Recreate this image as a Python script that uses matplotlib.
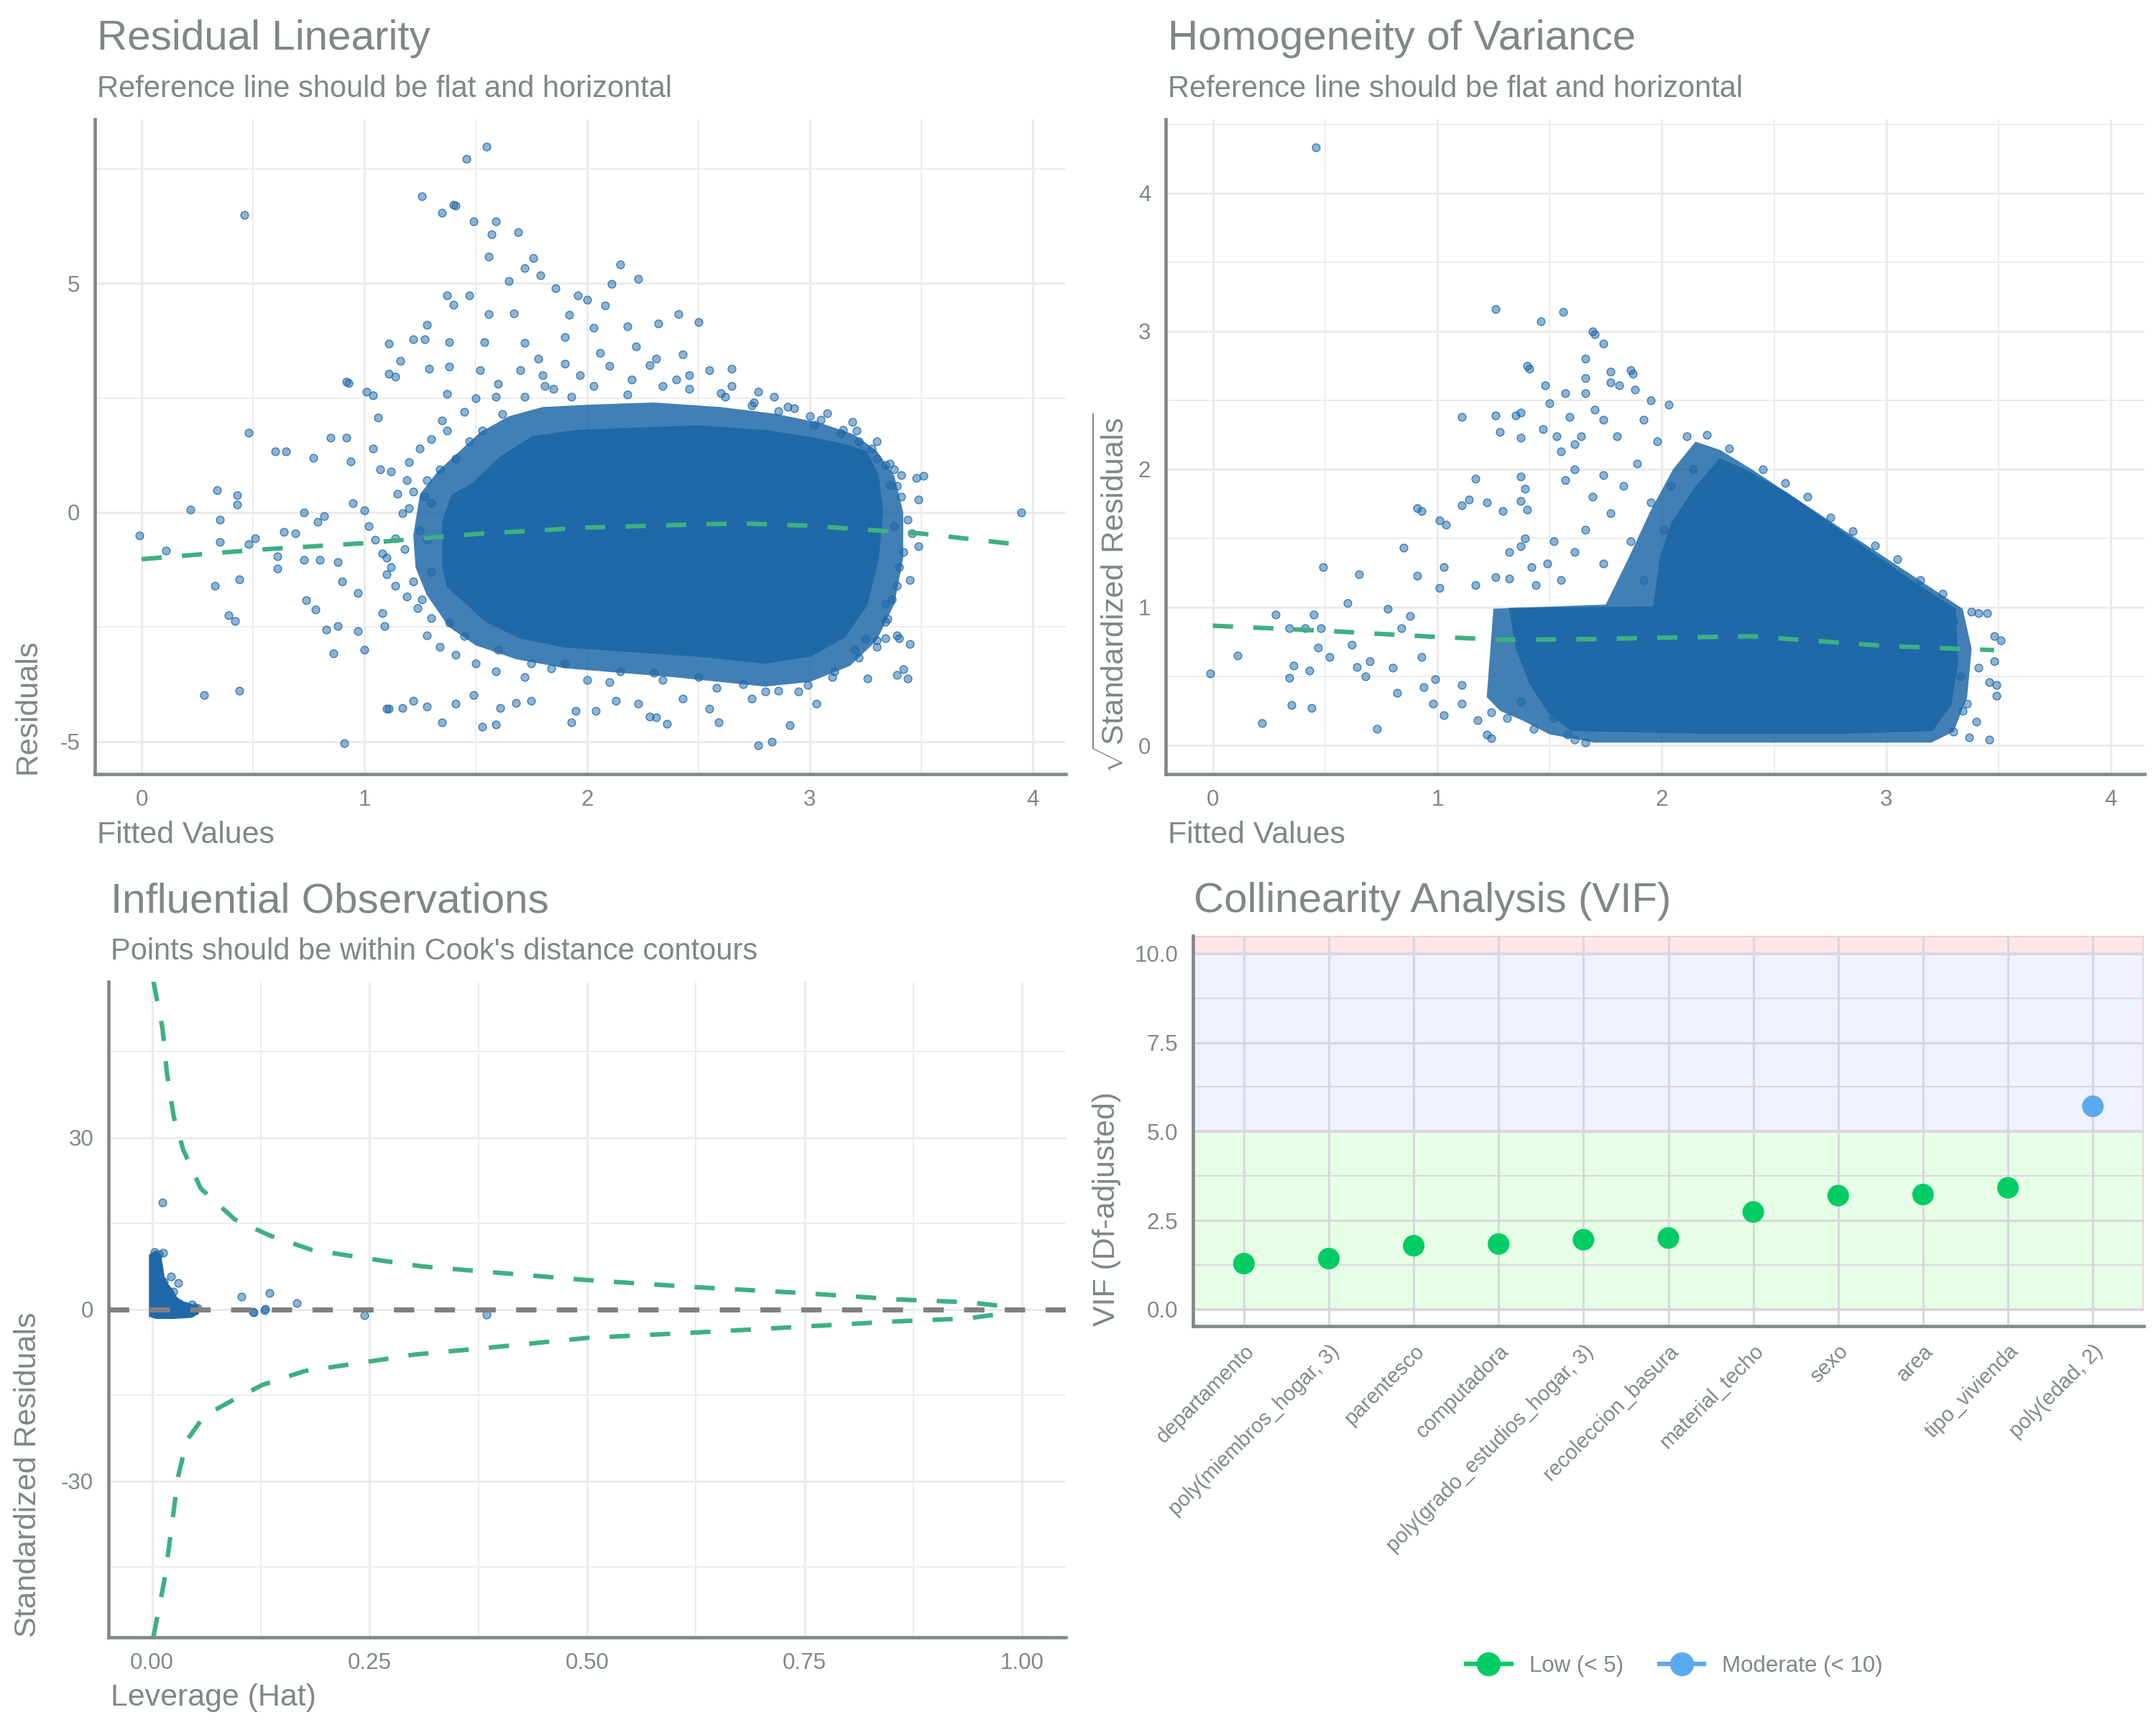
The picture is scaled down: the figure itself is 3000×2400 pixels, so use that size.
import matplotlib
matplotlib.use('Agg')
import matplotlib.pyplot as plt
from matplotlib.lines import Line2D
from matplotlib.ticker import MultipleLocator, FormatStrFormatter

plt.rcParams['font.family'] = ['Liberation Sans', 'DejaVu Sans']
plt.rcParams['axes.unicode_minus'] = False
plt.rcParams['mathtext.fontset'] = 'custom'
plt.rcParams['mathtext.rm'] = 'Liberation Sans'

# ---- data ----

# Residual linearity: outline of the solid core, the semi-dense halo round it,
# and the individual points that can be told apart
lin_core_x = [1.36, 1.36, 1.40, 1.49, 1.62, 1.76, 1.95, 2.20, 2.50, 2.80, 3.00, 3.15, 3.25, 3.30,
              3.32, 3.30, 3.25, 3.15, 3.00, 2.80, 2.50, 2.20, 1.90, 1.70, 1.55, 1.45, 1.38]
lin_core_y = [-1.2, -0.2, 0.35, 0.6, 1.2, 1.62, 1.75, 1.8, 1.85, 1.75, 1.6, 1.45, 1.3, 0.8,
              0.0, -1.0, -2.0, -2.7, -3.1, -3.25, -3.1, -3.0, -2.9, -2.7, -2.35, -1.9, -1.6]
lin_halo_x = [1.22, 1.25, 1.33, 1.42, 1.52, 1.65, 1.80, 2.00, 2.30, 2.60, 2.85, 3.05, 3.20, 3.30,
              3.38, 3.42, 3.42, 3.38, 3.30, 3.18, 3.00, 2.80, 2.60, 2.40, 2.15, 1.90, 1.68, 1.50,
              1.38, 1.28, 1.23]
lin_halo_y = [-0.5, 0.4, 0.9, 1.3, 1.75, 2.1, 2.3, 2.35, 2.4, 2.3, 2.15, 1.95, 1.7, 1.35,
              0.8, 0.0, -1.0, -2.0, -2.8, -3.35, -3.7, -3.8, -3.7, -3.6, -3.5, -3.4, -3.2, -2.9,
              -2.5, -1.8, -1.2]
lin_x = [1.55, 1.46, 1.26, 1.40, 1.41, 1.35, 0.46, 1.49, 1.59, 1.57, 1.69, 1.56, 1.76, 1.72, 1.65,
         1.79, 1.86, 2.15, 2.23, 2.11, 1.96, 2.00, 2.08, 1.37, 1.47, 1.40, 1.56, 1.67, 1.92, 2.41,
         2.50, 2.32, 2.18, 2.03, 1.28, 1.22, 1.27, 1.11, 1.38, 1.54, 1.72, 1.90, 2.22, 2.43, 1.16,
         1.29, 1.11, 1.14, 1.38, 1.52, 2.65, 2.55, 2.28, 0.92, 0.93, 1.01, 1.04, 1.37, 1.06, 2.84,
         3.08, 3.19,
         0.48, 0.60, 0.65, 0.77, 0.85, 0.92, 1.04, 1.07, 0.94, 0.34, 0.43, 0.43, 0.22, -0.01, 0.11,
         0.35, 0.35, 0.51, 0.48, 0.61, 0.61, 0.73, 0.80, 0.33, 0.44, 0.39, 0.42, 0.74, 0.78, 0.83,
         0.88, 0.97, 0.86, 1.00, 0.28, 0.44, 0.91, 0.64, 0.69, 0.73, 0.79, 0.82, 0.88, 0.90, 0.97,
         1.08, 1.09,
         1.10, 1.11, 1.17, 1.22, 1.28, 1.35, 1.41, 1.49, 1.53, 1.59, 1.61, 1.68, 1.75, 1.93, 1.95,
         2.04, 2.13, 2.23, 2.28, 2.31, 2.36, 2.43, 2.55, 2.59, 2.77, 2.83, 2.91, 3.03, 3.26, 3.39,
         3.44, 3.42, 3.34, 3.40, 3.45, 3.30, 3.25,
         3.95, 3.51, 3.48, 3.49, 3.49, 3.46, 3.41, 3.38, 3.34, 3.34, 3.34,
         1.19, 1.22, 1.17, 1.14, 1.10, 1.10, 1.14, 1.19, 1.24, 1.28, 1.34, 1.41, 1.50, 1.59, 1.72,
         1.84, 2.00, 2.15, 2.34, 2.58, 2.74, 2.86, 2.99, 3.11, 3.22, 3.30, 3.35, 3.39, 3.42, 3.44,
         3.39, 3.30, 3.22, 3.14, 3.02, 2.86, 2.74, 2.62, 2.46, 2.34, 2.18, 2.03, 1.93, 1.81, 1.72,
         1.62, 1.53, 1.47, 1.41, 1.34, 1.28, 1.27,
         1.37, 1.59, 1.78, 1.90, 2.06, 2.31, 2.46, 2.65, 2.77, 2.93, 3.05, 3.21, 3.30, 3.36, 3.41,
         3.45, 3.39,
         0.95, 1.00, 1.02, 1.05, 1.08, 1.12, 1.15, 1.20, 1.25, 1.18, 1.22, 1.26, 1.30, 1.12, 1.20,
         1.25, 1.30, 1.35, 1.45, 1.50, 1.60, 1.70, 1.80, 1.85, 1.97, 2.10, 2.20, 2.40, 2.60, 2.75,
         2.90, 3.00, 3.15, 3.28, 3.36, 3.38, 3.40, 3.37, 3.20, 3.10, 2.95, 2.80, 2.70, 2.50, 2.30,
         2.10, 1.90, 1.75, 1.60, 1.45, 1.38, 1.30, 1.28, 1.30]
lin_y = [7.99, 7.71, 6.90, 6.71, 6.70, 6.54, 6.49, 6.36, 6.35, 6.07, 6.11, 5.59, 5.55, 5.33, 5.05,
         5.18, 4.90, 5.41, 5.09, 4.99, 4.74, 4.64, 4.52, 4.73, 4.73, 4.53, 4.33, 4.35, 4.32, 4.33,
         4.16, 4.12, 4.07, 4.03, 4.10, 3.78, 3.78, 3.69, 3.72, 3.72, 3.70, 3.83, 3.63, 3.45, 3.31,
         3.14, 3.02, 2.96, 3.18, 3.10, 3.14, 3.10, 3.22, 2.85, 2.82, 2.64, 2.56, 2.59, 2.07, 2.52,
         2.16, 1.97,
         1.74, 1.34, 1.34, 1.19, 1.63, 1.63, 1.39, 0.94, 1.11, 0.48, 0.37, 0.17, 0.06, -0.51, -0.83,
         -0.16, -0.65, -0.57, -0.69, -0.96, -1.23, -1.04, -1.03, -1.60, -1.46, -2.25, -2.37, -1.92,
         -2.12, -2.56, -2.48, -2.59, -3.08, -3.00, -3.98, -3.89, -5.03, -0.42, -0.45, 0.0, -0.2,
         -0.08, -1.09, -1.50, -1.75, -2.20, -2.48,
         -4.29, -4.29, -4.27, -4.11, -4.23, -4.58, -4.17, -3.98, -4.68, -4.62, -4.26, -4.16, -4.11,
         -4.58, -4.33, -4.33, -4.11, -4.17, -4.46, -4.47, -4.61, -4.07, -4.28, -4.58, -5.08, -5.01,
         -4.64, -4.18, -3.62, -3.55, -3.62, -3.42, -2.74, -2.74, -2.87, -2.80, -2.76,
         0.0, 0.80, 0.75, 0.28, -0.73, -0.45, 0.82, 0.94, 1.03, -2.00, -2.38,
         0.70, 0.46, -0.02, -0.57, -0.99, -1.35, -1.60, -1.84, -2.08, -2.68, -2.93, -3.11, -3.29,
         -3.47, -3.59, -3.41, -3.65, -3.47, -3.65, -3.83, -4.07, -3.89, -3.77, -3.47, -3.17, -2.93,
         -2.32, -1.60, -0.87, -0.15, 0.58, 1.18, 1.55, 1.73, 1.91, 2.21, 2.33, 2.52, 2.70, 2.76,
         2.58, 2.76, 2.52, 2.76, 2.52, 2.15, 1.79, 1.55, 1.18, 0.94, 0.70, 0.34,
         1.79, 2.52, 3.36, 3.24, 3.48, 3.36, 3.00, 2.76, 2.64, 2.27, 2.03, 1.79, 1.55, 1.06, 0.34,
         -1.48, -2.68,
         0.20, 0.05, -0.30, -0.60, -0.90, -1.20, 0.40, 0.10, -0.40, -0.80, -1.50, -1.90, -2.30,
         0.90, 1.10, 1.40, 1.60, 2.00, 2.20, 2.50, 2.80, 3.10, 3.00, 2.70, 3.00, 3.20, 2.90, 2.90,
         2.60, 2.40, 2.30, 2.10, 1.80, 1.40, 0.60, -0.30, -1.20, -1.90, -3.00, -3.60, -3.90, -3.90,
         -3.75, -3.60, -3.50, -3.70, -3.30, -3.30, -3.00, -2.70, -2.40, -1.30, -0.60, 0.20]
lin_loess_x = [0.0, 0.5, 1.0, 1.5, 2.0, 2.5, 2.7, 3.0, 3.5, 3.9]
lin_loess_y = [-1.02, -0.82, -0.67, -0.47, -0.33, -0.26, -0.24, -0.29, -0.46, -0.68]

# Homogeneity of variance
var_core_x = [1.33, 1.97, 2.00, 2.05, 2.15, 2.26, 2.36, 2.55, 2.83, 3.11, 3.30, 3.31, 3.28, 3.20,
              2.80, 2.20, 1.60, 1.50, 1.42, 1.36]
var_core_y = [0.98, 0.99, 1.35, 1.60, 1.85, 2.06, 1.99, 1.82, 1.50, 1.18, 0.98, 0.60, 0.30, 0.12,
              0.10, 0.10, 0.12, 0.25, 0.45, 0.70]
var_halo_x = [1.22, 1.25, 1.75, 1.85, 1.95, 2.05, 2.15, 2.26, 2.40, 3.34, 3.38, 3.36, 3.30, 3.20,
              2.50, 1.70, 1.50, 1.38, 1.28]
var_halo_y = [0.35, 0.99, 1.02, 1.35, 1.70, 2.00, 2.20, 2.14, 2.00, 0.99, 0.70, 0.35, 0.10, 0.02,
              0.02, 0.02, 0.08, 0.18, 0.25]
var_x = [0.46, 1.26, 1.46, 1.56, 1.69, 1.70, 1.74, 1.66, 1.40, 1.41, 1.77, 1.86, 1.87, 1.48, 1.57,
         1.66, 1.66, 1.77, 1.81, 1.88, 1.50, 1.11, 1.26, 1.35, 1.37, 1.28, 1.37, 1.47, 1.59, 1.70,
         1.95, 2.03, 1.53, 1.55, 1.61, 1.17, 1.11, 1.14, 1.22, 1.37, 1.39, 1.37, 1.29, 1.40, 0.91,
         0.93, 1.01, 1.04, 0.85, 1.03, 0.91, 0.49, 0.65, 0.60, 0.28, 0.45, 0.34, 0.41, 0.48, 0.11,
         -0.01, 0.47, 0.52, 0.36, 0.34, 0.43, 0.22, 0.35, 0.44, 0.62, 0.64, 0.68, 0.70, 0.73, 0.78,
         0.80, 0.82, 0.84, 0.88, 0.93, 0.94, 0.98, 0.99, 1.03, 1.01, 1.11, 1.11, 1.18, 1.22, 1.24,
         1.17, 1.26, 1.32, 1.32, 1.37, 1.39, 1.42,
         3.51, 3.48, 3.48, 3.49, 3.49, 3.46, 3.40, 3.46, 3.37, 3.41, 3.45, 3.41, 3.38, 3.34,
         1.55, 1.61, 1.66, 1.74, 1.77, 1.83, 1.86, 1.89, 1.92, 1.95, 1.98, 2.01, 2.04, 2.08, 2.11,
         2.14, 1.74, 1.69, 1.61, 1.57, 1.52, 1.49, 1.44, 1.80, 1.92, 1.74, 1.64,
         1.24, 1.31, 1.37, 1.43, 1.52, 1.58, 1.61, 1.66,
         2.20, 2.30, 2.45, 2.55, 2.65, 2.75, 2.85, 2.95, 3.05, 3.15, 3.25, 3.30, 3.33, 3.36, 3.30]
var_y = [4.33, 3.16, 3.07, 3.14, 3.00, 2.98, 2.91, 2.80, 2.75, 2.73, 2.71, 2.72, 2.69, 2.61, 2.55,
         2.66, 2.55, 2.63, 2.61, 2.58, 2.48, 2.38, 2.39, 2.39, 2.41, 2.27, 2.23, 2.29, 2.38, 2.43,
         2.50, 2.47, 2.24, 2.13, 2.18, 1.93, 1.74, 1.78, 1.76, 1.95, 1.86, 1.77, 1.70, 1.71, 1.72,
         1.70, 1.63, 1.60, 1.43, 1.29, 1.23, 1.29, 1.24, 1.03, 0.95, 0.95, 0.85, 0.85, 0.85, 0.65,
         0.52, 0.71, 0.64, 0.58, 0.49, 0.54, 0.16, 0.29, 0.27, 0.73, 0.57, 0.50, 0.61, 0.12, 0.99,
         0.56, 0.38, 0.85, 0.94, 0.64, 0.42, 0.30, 0.48, 0.22, 1.14, 0.44, 0.30, 0.18, 0.08, 0.05,
         1.16, 1.22, 1.21, 1.40, 1.44, 1.50, 1.29,
         0.76, 0.79, 0.61, 0.44, 0.36, 0.46, 0.17, 0.04, 0.06, 0.56, 0.96, 0.96, 0.97, 0.25,
         1.20, 1.40, 1.56, 1.32, 1.68, 1.88, 1.48, 2.04, 1.20, 1.76, 2.20, 1.56, 1.88, 1.36, 2.24,
         2.00, 1.96, 1.80, 2.00, 1.92, 1.48, 1.32, 1.16, 2.24, 2.36, 2.36, 2.24,
         0.24, 0.20, 0.32, 0.12, 0.20, 0.08, 0.04, 0.02,
         2.25, 2.15, 2.00, 1.90, 1.80, 1.65, 1.55, 1.45, 1.35, 1.20, 1.10, 0.90, 0.50, 0.30, 0.10]
var_loess_x = [0.0, 0.5, 1.0, 1.3, 1.7, 2.0, 2.4, 2.7, 3.0, 3.48]
var_loess_y = [0.867, 0.83, 0.785, 0.765, 0.77, 0.78, 0.79, 0.755, 0.72, 0.69]

# Influential observations
lev_core_x = [-0.001, -0.001, 0.004, 0.008, 0.010, 0.012, 0.016, 0.022, 0.026, 0.032, 0.042,
              0.050, 0.051, 0.045, 0.025, 0.005]
lev_core_y = [-1.0, 9.3, 9.8, 9.3, 7.5, 5.5, 4.3, 3.2, 2.0, 1.2, 0.7, 0.2, -0.6, -1.1, -1.3, -1.3]
lev_x = [0.012, 0.003, 0.013, 0.008, 0.022, 0.030, 0.014, 0.024, 0.031, 0.046, 0.049, 0.103,
         0.116, 0.129, 0.130, 0.135, 0.166, 0.117, 0.244, 0.384, 0.038, 0.052]
lev_y = [18.6, 10.0, 9.9, 9.6, 5.7, 4.6, 4.8, 3.1, 1.05, 0.8, 0.3, 2.2,
         -0.46, -0.13, 0.1, 2.9, 1.1, -0.5, -1.0, -0.97, -0.5, 0.2]
cook_up_x = [0.0016, 0.012, 0.017, 0.025, 0.036, 0.056, 0.095, 0.135, 0.183, 0.246, 0.31, 0.38,
             0.50, 0.62, 0.74, 0.86, 0.94, 0.98]
cook_up_y = [57.3, 49.1, 41.4, 33.6, 27.8, 21.1, 15.7, 12.9, 10.4, 8.9, 7.5, 6.6, 5.1, 3.9, 2.9,
             1.7, 1.2, 0.5]
cook_lo_x = [0.0016, 0.014, 0.021, 0.030, 0.040, 0.060, 0.095, 0.127, 0.175, 0.238, 0.302, 0.381,
             0.50, 0.62, 0.74, 0.857, 0.937, 0.98]
cook_lo_y = [-57.2, -47.5, -39.8, -29.2, -22.9, -18.6, -15.7, -13.2, -10.8, -9.4, -7.9, -6.8,
             -5.0, -4.1, -3.1, -2.1, -1.6, -0.7]

# Collinearity (VIF)
vif_terms = ['departamento', 'poly(miembros_hogar, 3)', 'parentesco', 'computadora',
             'poly(grado_estudios_hogar, 3)', 'recoleccion_basura', 'material_techo', 'sexo',
             'area', 'tipo_vivienda', 'poly(edad, 2)']
vif_values = [1.29, 1.43, 1.79, 1.84, 1.96, 2.01, 2.74, 3.20, 3.23, 3.42, 5.71]

# ---- style ----
TXT = '#7f8787'
GRID = '#ebebeb'
PT = (0.122, 0.412, 0.659)
LOESS = '#3eb082'
LOW = '#00cc66'
MOD = '#5caaee'

W, H = 3000, 2400
fig = plt.figure(figsize=(10, 8), dpi=300)


def rect(l, r, t, b):
    return [l / W, 1 - b / H, (r - l) / W, (b - t) / H]


def ftext(px, py, s, **kw):
    kw.setdefault('color', TXT)
    fig.text(px / W, 1 - py / H, s, **kw)


def style(ax, xmaj, xmin, ymaj, ymin, gcol=GRID):
    ax.set_facecolor('white')
    for side in ('top', 'right'):
        ax.spines[side].set_visible(False)
    for side in ('left', 'bottom'):
        ax.spines[side].set_color(TXT)
        ax.spines[side].set_linewidth(1.1)
    if xmaj:
        ax.xaxis.set_major_locator(MultipleLocator(xmaj))
    if xmin:
        ax.xaxis.set_minor_locator(MultipleLocator(xmin))
    ax.yaxis.set_major_locator(MultipleLocator(ymaj))
    ax.yaxis.set_minor_locator(MultipleLocator(ymin))
    ax.grid(which='major', color=gcol, lw=0.75)
    ax.grid(which='minor', color=gcol, lw=0.45)
    ax.set_axisbelow(True)
    ax.tick_params(which='both', length=0, labelsize=7.5, labelcolor=TXT, pad=5)


def points(ax, x, y):
    ax.scatter(x, y, s=6.6, facecolor=PT + (0.5,), edgecolor=PT + (0.8,),
               linewidths=0.35, zorder=3)


def cloud(ax, hx, hy, cx, cy):
    # semi-dense halo first, then the solid core of overlapping points
    if hx:
        ax.fill(hx, hy, facecolor=PT + (0.85,), edgecolor='none', zorder=2.4)
    ax.fill(cx, cy, color=PT, lw=1.5, zorder=2.5)


# Residual Linearity
ax1 = fig.add_axes(rect(132, 1483, 166, 1077))
style(ax1, 1, 0.5, 5, 2.5)
cloud(ax1, lin_halo_x, lin_halo_y, lin_core_x, lin_core_y)
points(ax1, lin_x, lin_y)
ax1.plot(lin_loess_x, lin_loess_y, color=LOESS, lw=1.5, ls=(0, (4.5, 4.5)), zorder=4)
ax1.set_xlim(-0.21, 4.15)
ax1.set_ylim(-5.71, 8.58)
ftext(135, 69, 'Residual Linearity', fontsize=14)
ftext(135, 135, 'Reference line should be flat and horizontal', fontsize=10)
ftext(135, 1173, 'Fitted Values', fontsize=10.3)
ftext(39, 1077, 'Residuals', fontsize=10.3, rotation=90, ha='center', va='bottom')

# Homogeneity of Variance
ax2 = fig.add_axes(rect(1622, 2984, 166, 1077))
style(ax2, 1, 0.5, 1, 0.5)
cloud(ax2, var_halo_x, var_halo_y, var_core_x, var_core_y)
points(ax2, var_x, var_y)
ax2.plot(var_loess_x, var_loess_y, color=LOESS, lw=1.5, ls=(0, (4.5, 4.5)), zorder=4)
ax2.set_xlim(-0.21, 4.15)
ax2.set_ylim(-0.208, 4.535)
ftext(1625, 69, 'Homogeneity of Variance', fontsize=14)
ftext(1625, 135, 'Reference line should be flat and horizontal', fontsize=10)
ftext(1625, 1173, 'Fitted Values', fontsize=10.3)
ftext(1548, 1077, r'$\sqrt{\mathrm{Standardized\ Residuals}}$', fontsize=10.3, rotation=90,
      ha='center', va='bottom')

# Influential Observations
ax3 = fig.add_axes(rect(151, 1483, 1366, 2278))
style(ax3, 0.25, 0.125, 30, 15)
ax3.xaxis.set_major_formatter(FormatStrFormatter('%.2f'))
cloud(ax3, None, None, lev_core_x, lev_core_y)
points(ax3, lev_x, lev_y)
ax3.plot(cook_up_x, cook_up_y, color=LOESS, lw=1.5, ls=(0, (4.5, 4.5)), zorder=4)
ax3.plot(cook_lo_x, cook_lo_y, color=LOESS, lw=1.5, ls=(0, (4.5, 4.5)), zorder=4)
ax3.axhline(0, color='#808080', lw=1.7, ls=(0, (4, 4)), zorder=5)
ax3.set_xlim(-0.05, 1.05)
ax3.set_ylim(-57.3, 57.2)
ftext(154, 1269, 'Influential Observations', fontsize=14)
ftext(154, 1335, "Points should be within Cook's distance contours", fontsize=10)
ftext(154, 2373, 'Leverage (Hat)', fontsize=10.3)
ftext(39, 2278, 'Standardized Residuals', fontsize=10.3, rotation=90, ha='center', va='bottom')

# Collinearity Analysis (VIF)
ax4 = fig.add_axes(rect(1660, 2983, 1302, 1845))
style(ax4, None, None, 2.5, 1.25, gcol='#d9d7dc')
ax4.yaxis.set_major_formatter(FormatStrFormatter('%.1f'))
band_edge = '#e6d3dc'
ax4.axhspan(0, 5, facecolor='#e6fde6', edgecolor=band_edge, lw=0.9, zorder=0)
ax4.axhspan(5, 10, facecolor='#eff1fe', edgecolor=band_edge, lw=0.9, zorder=0)
ax4.axhspan(10, 10.5, facecolor='#ffe6e6', edgecolor=band_edge, lw=0.9, zorder=0)
pos = list(range(1, len(vif_terms) + 1))
cols = [LOW if v < 5 else MOD for v in vif_values]
ax4.scatter(pos, vif_values, s=52, c=cols, linewidths=0, zorder=3)
ax4.set_xticks(pos)
ax4.set_xticklabels(vif_terms, rotation=45, ha='right', va='top', rotation_mode='anchor',
                    fontsize=7)
ax4.set_xlim(0.4, 11.6)
ax4.set_ylim(-0.467, 10.5)
ftext(1661, 1269, 'Collinearity Analysis (VIF)', fontsize=14)
ftext(1540, 1845, 'VIF (Df-adjusted)', fontsize=10.3, rotation=90, ha='center', va='bottom')

handles = [Line2D([0], [0], color=LOW, lw=1.5, marker='o', markersize=7),
           Line2D([0], [0], color=MOD, lw=1.5, marker='o', markersize=7)]
fig.legend(handles, ['Low (< 5)', 'Moderate (< 10)'], loc='center',
           bbox_to_anchor=(2330 / W, 1 - 2318 / H), ncol=2, frameon=False, fontsize=7.5,
           labelcolor=TXT, handlelength=2.0, handletextpad=0.8, columnspacing=1.6)

fig.savefig('out.png', dpi=300, facecolor='white')
